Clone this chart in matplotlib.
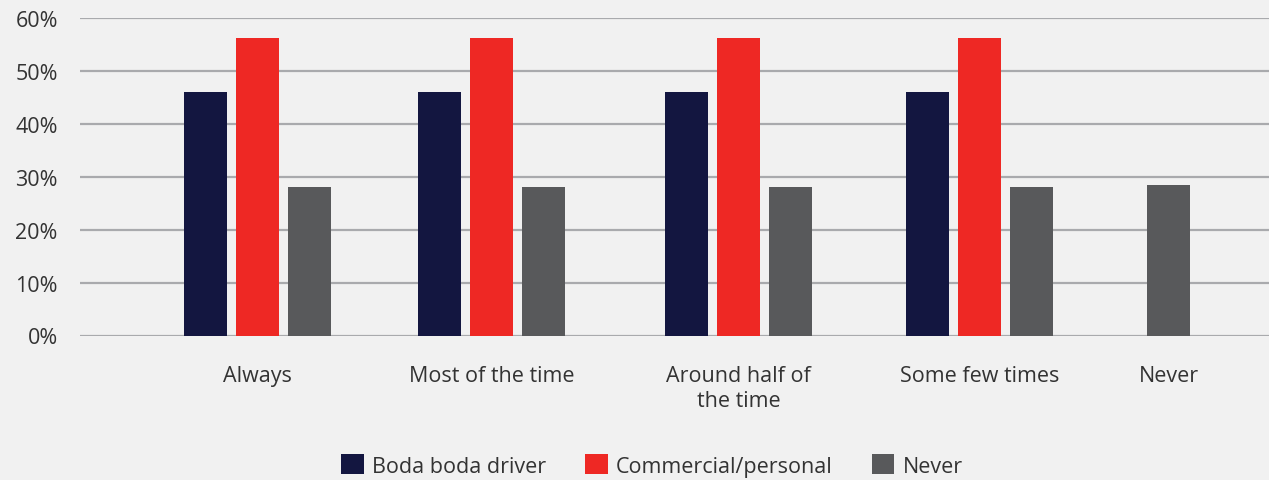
import matplotlib.pyplot as plt
from matplotlib.patches import Patch

categories = ['Always', 'Most of the time', 'Around half of\nthe time', 'Some few times', 'Never']
boda = [0.46, 0.46, 0.46, 0.46, None]
commercial = [0.562, 0.562, 0.562, 0.562, None]
never = [0.281, 0.281, 0.281, 0.281, 0.284]

series_names = ['Boda boda driver', 'Commercial/personal', 'Never']
colors = ['#131640', '#ee2824', '#58595b']

# group centres (in bar-slot units) and bar width
centers = [0, 4.5, 9.25, 13.88, 17.52]
width = 0.83

plt.rcParams['font.family'] = ['Open Sans', 'DejaVu Sans']
bg = '#f1f1f1'
text_color = '#333333'
fs = 15.5

fig = plt.figure(figsize=(12.69, 4.81), dpi=100, facecolor=bg)
ax = fig.add_axes([80 / 1269, 1 - 336.5 / 481, 1 - 80 / 1269, (336.5 - 19) / 481])
ax.set_facecolor(bg)

for i, c in enumerate(centers):
    if boda[i] is None:
        # single bar, centred on its label
        ax.bar(c, never[i], width, color=colors[2], zorder=3)
        continue
    ax.bar(c - 1, boda[i], width, color=colors[0], zorder=3)
    ax.bar(c, commercial[i], width, color=colors[1], zorder=3)
    ax.bar(c + 1, never[i], width, color=colors[2], zorder=3)

ax.set_xlim(-3.41, 19.45)
ax.set_ylim(0, 0.6)
ax.set_yticks([0, 0.1, 0.2, 0.3, 0.4, 0.5, 0.6])
ax.set_yticklabels(['0%', '10%', '20%', '30%', '40%', '50%', '60%'])
ax.set_xticks(centers)
ax.set_xticklabels(categories, linespacing=1.25)
ax.tick_params(axis='both', length=0, labelsize=fs, colors=text_color)
ax.tick_params(axis='y', pad=16)
ax.tick_params(axis='x', pad=21)
ax.yaxis.grid(True, color='#a9aaad', linewidth=1.6, zorder=0)
ax.set_axisbelow(True)
for s in ax.spines.values():
    s.set_visible(False)

handles = [Patch(facecolor=col, label=name) for col, name in zip(colors, series_names)]
fig.legend(handles=handles, loc='center', bbox_to_anchor=(652 / 1269, 0.03), ncol=3,
           frameon=False, fontsize=fs, labelcolor=text_color,
           handlelength=1.05, handleheight=1.05, handletextpad=0.4, columnspacing=1.8)

fig.savefig('out.png', dpi=100, facecolor=bg)
